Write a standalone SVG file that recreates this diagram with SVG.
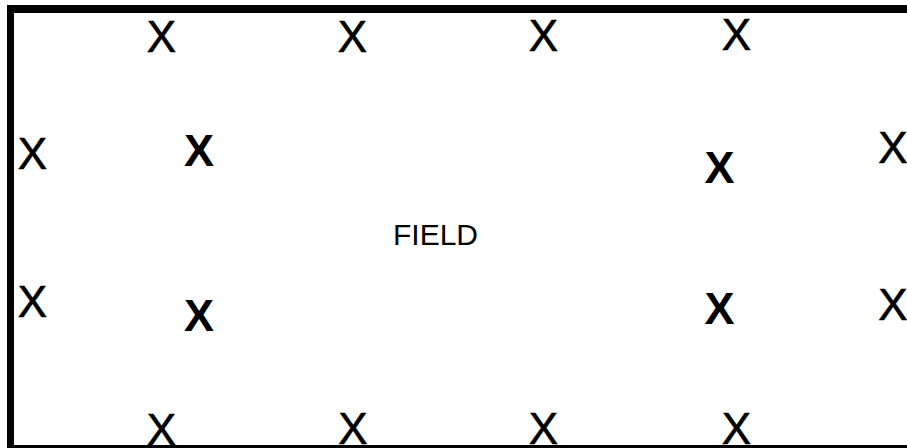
<svg xmlns="http://www.w3.org/2000/svg" width="907" height="448" viewBox="0 0 907 448">
  <style>
    .x { font-family: "Liberation Sans", Arial, sans-serif; font-size: 44px; fill: #000; text-anchor: middle; stroke: #000; stroke-width: 0.6px; }
    .xb { font-family: "Liberation Sans", Arial, sans-serif; font-size: 45px; font-weight: bold; fill: #000; text-anchor: middle; }
    .lbl { font-family: "Liberation Sans", Arial, sans-serif; font-size: 30px; fill: #000; text-anchor: middle; }
    .border { stroke: #000; fill: none; }
  </style>
  <rect width="907" height="448" fill="#fff"/>
  <g id="border">
    <line class="border" x1="7" y1="9" x2="907" y2="9" stroke-width="8"/>
    <line class="border" x1="10.5" y1="5" x2="10.5" y2="448" stroke-width="7"/>
    <line class="border" x1="7" y1="446.5" x2="907" y2="446.5" stroke-width="3"/>
  </g>
  <g id="field"><text class="lbl" x="435.5" y="245">FIELD</text></g>
  <g id="top-row">
    <g id="t1"><text class="x" x="161.5" y="52">X</text></g>
    <g id="t2"><text class="x" x="352.5" y="52">X</text></g>
    <g id="t3"><text class="x" x="543.5" y="51">X</text></g>
    <g id="t4"><text class="x" x="736.5" y="50">X</text></g>
  </g>
  <g id="bottom-row">
    <g id="b1"><text class="x" x="161.5" y="445">X</text></g>
    <g id="b2"><text class="x" x="353" y="444">X</text></g>
    <g id="b3"><text class="x" x="543.5" y="444">X</text></g>
    <g id="b4"><text class="x" x="736.5" y="444">X</text></g>
  </g>
  <g id="left-col">
    <g id="l1"><text class="x" x="32.5" y="169">X</text></g>
    <g id="l2"><text class="x" x="32.5" y="317">X</text></g>
  </g>
  <g id="right-col">
    <g id="r1"><text class="x" x="893" y="163">X</text></g>
    <g id="r2"><text class="x" x="893" y="320">X</text></g>
  </g>
  <g id="inner-bold">
    <g id="ib1"><text class="xb" x="199" y="166">X</text></g>
    <g id="ib2"><text class="xb" x="199" y="331">X</text></g>
    <g id="ib3"><text class="xb" x="719.5" y="183">X</text></g>
    <g id="ib4"><text class="xb" x="719.5" y="324">X</text></g>
  </g>
  <g id="connectors"></g>
</svg>
